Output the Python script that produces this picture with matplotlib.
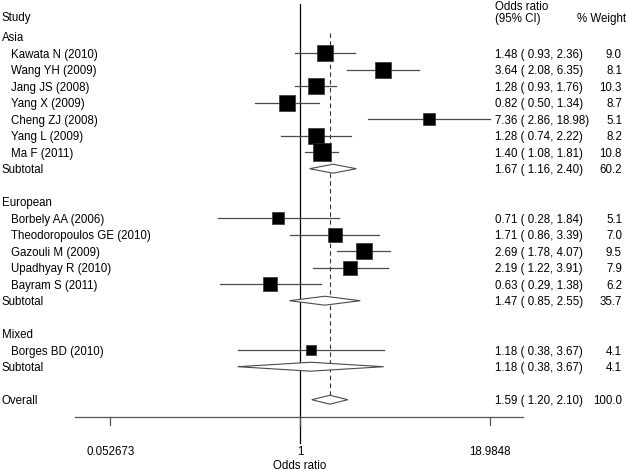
import numpy as np
import matplotlib
matplotlib.use("Agg")
import matplotlib.pyplot as plt
import matplotlib.transforms as mtransforms
from matplotlib.patches import Polygon

plt.rcParams['font.family'] = ['Liberation Sans', 'DejaVu Sans']

# --- data ---
groups = ["Asia", "European", "Mixed"]
studies = [
    ["Kawata N (2010)", "Wang YH (2009)", "Jang JS (2008)", "Yang X (2009)",
     "Cheng ZJ (2008)", "Yang L (2009)", "Ma F (2011)"],
    ["Borbely AA (2006)", "Theodoropoulos GE (2010)", "Gazouli M (2009)",
     "Upadhyay R (2010)", "Bayram S (2011)"],
    ["Borges BD (2010)"],
]
odds = [[1.48, 3.64, 1.28, 0.82, 7.36, 1.28, 1.40],
        [0.71, 1.71, 2.69, 2.19, 0.63],
        [1.18]]
ci_lo = [[0.93, 2.08, 0.93, 0.50, 2.86, 0.74, 1.08],
         [0.28, 0.86, 1.78, 1.22, 0.29],
         [0.38]]
ci_hi = [[2.36, 6.35, 1.76, 1.34, 18.98, 2.22, 1.81],
         [1.84, 3.39, 4.07, 3.91, 1.38],
         [3.67]]
weights = [[9.0, 8.1, 10.3, 8.7, 5.1, 8.2, 10.8],
           [5.1, 7.0, 9.5, 7.9, 6.2],
           [4.1]]
sub_or = [1.67, 1.47, 1.18]
sub_lo = [1.16, 0.85, 0.38]
sub_hi = [2.40, 2.55, 3.67]
sub_w = [60.2, 35.7, 4.1]
overall = (1.59, 1.20, 2.10, 100.0)
tick_vals = [0.052673, 1, 18.9848]
tick_labels = ["0.052673", "1", "18.9848"]

fig = plt.figure(figsize=(6.26, 4.71), dpi=100)
ax = fig.add_axes([0, 0, 1, 1])
ax.set_xscale('log')
# 1 sits at ~300px, ~64.4 px per ln unit
ax.set_xlim(np.exp(-300 / 64.4), np.exp(326 / 64.4))
ax.set_ylim(27.32, -1.224)
ax.axis('off')

trans = mtransforms.blended_transform_factory(ax.transAxes, ax.transData)
fs = 8.3
line_c = '#4a4a4a'
x_or = 495 / 626
x_w = 622 / 626
tkw = dict(fontsize=fs, va='center_baseline')

def diamond(y, est, lo, hi, h=0.27):
    pts = [(lo, y), (est, y - h), (hi, y), (est, y + h)]
    ax.add_patch(Polygon(pts, closed=True, facecolor='white',
                         edgecolor=line_c, lw=0.8, zorder=3))

def fmt(o, l, h):
    return f"{o:.2f} ( {l:.2f}, {h:.2f})"

# headers
ax.text(2 / 626, -0.21, "Study", transform=trans, **tkw)
ax.text(x_or, -0.9, "Odds ratio", transform=trans, **tkw)
ax.text(x_or, -0.19, "(95% CI)", transform=trans, **tkw)
ax.text(626 / 626, -0.19, "% Weight", transform=trans, ha='right', **tkw)

row = 1
for g, name in enumerate(groups):
    ax.text(2 / 626, row, name, transform=trans, **tkw)
    row += 1
    for s, lab in enumerate(studies[g]):
        ax.text(11 / 626, row, lab, transform=trans, **tkw)
        ax.plot([ci_lo[g][s], ci_hi[g][s]], [row, row], color=line_c,
                lw=0.9, zorder=2)
        ax.plot(odds[g][s], row, marker='s', color='black',
                ms=3.8 * np.sqrt(weights[g][s]), mec='#333333', mew=0.5,
                zorder=4)
        ax.text(x_or, row, fmt(odds[g][s], ci_lo[g][s], ci_hi[g][s]),
                transform=trans, **tkw)
        ax.text(x_w, row, f"{weights[g][s]:.1f}", transform=trans,
                ha='right', **tkw)
        row += 1
    ax.text(2 / 626, row, "Subtotal", transform=trans, **tkw)
    diamond(row, sub_or[g], sub_lo[g], sub_hi[g])
    ax.text(x_or, row, fmt(sub_or[g], sub_lo[g], sub_hi[g]),
            transform=trans, **tkw)
    ax.text(x_w, row, f"{sub_w[g]:.1f}", transform=trans, ha='right', **tkw)
    row += 2

ax.text(2 / 626, row, "Overall", transform=trans, **tkw)
diamond(row, overall[0], overall[1], overall[2])
ax.text(x_or, row, fmt(*overall[:3]), transform=trans, **tkw)
ax.text(x_w, row, f"{overall[3]:.1f}", transform=trans, ha='right', **tkw)

# reference lines
ax.plot([1, 1], [-0.98, 25.6], color='black', lw=0.9, zorder=1)
ax.plot([overall[0], overall[0]], [0.78, row + 0.2], color='#333333',
        lw=0.8, ls=(0, (4, 3)), zorder=1)

# x axis drawn by hand
axis_y = row + 1.05
ax.plot([np.exp(-225 / 64.4), np.exp(223 / 64.4)], [axis_y, axis_y],
        color='#555555', lw=0.9)
for v, lab in zip(tick_vals, tick_labels):
    ax.plot([v, v], [axis_y, axis_y + 0.5], color='#555555', lw=0.9)
    ax.text(v, axis_y + 2.0, lab, ha='center', **tkw)
ax.text(1, axis_y + 2.85, "Odds ratio", ha='center', **tkw)

fig.savefig("out.png", dpi=100)
